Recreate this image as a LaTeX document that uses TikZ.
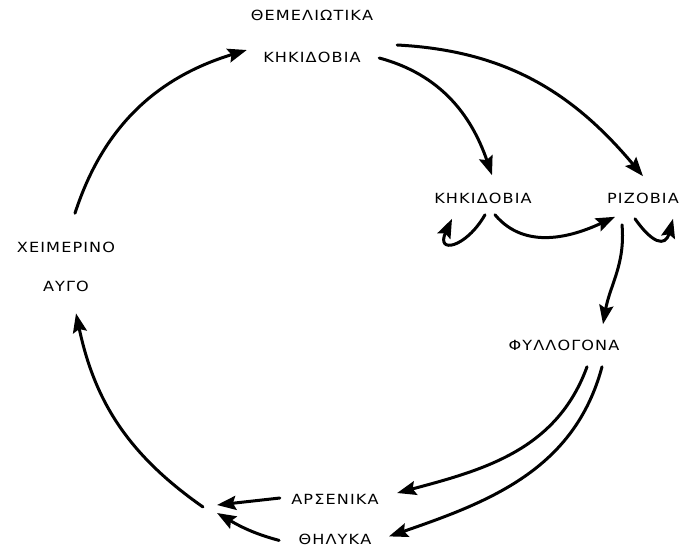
\documentclass[tikz,border=0pt]{standalone}
\usepackage{fontspec}
\newfontfamily\grfont[LetterSpace=8,FakeStretch=1.15]{DejaVu Sans}
\usetikzlibrary{arrows.meta}
\usetikzlibrary{positioning}
\begin{document}
\begin{tikzpicture}[x=1pt, y=1pt, >={Stealth[length=19pt,width=14pt,inset=3pt]},
	line width=3pt, line cap=round,
	stage node/.style={inner sep=0pt, font=\grfont\fontsize{14}{16}\selectfont},
]
\useasboundingbox (0,0) rectangle (684,-551);
\node [stage node] at (312,-57) (kk1) {ΚΗΚΙΔΟΒΙΑ};
\node [stage node] (them) [above=28pt of kk1] {ΘΕΜΕΛΙΩΤΙΚΑ};
\node [stage node] at (483,-198) (kk2) {ΚΗΚΙΔΟΒΙΑ};
\node [stage node] at (643,-198) (rz) {ΡΙΖΟΒΙΑ};
\node [stage node] at (66,-247) (xe) {ΧΕΙΜΕΡΙΝΟ};
\node [stage node] (ay) [below=26pt of xe] {ΑΥΓΟ};
\node [stage node] at (564,-345) (fy) {ΦΥΛΛΟΓΟΝΑ};
\node [stage node] at (335,-499) (ar) {ΑΡΣΕΝΙΚΑ};
\node [stage node] (th) [below=27pt of ar] {ΘΗΛΥΚΑ};
\coordinate (j0) at (203,-507);
\coordinate (j1) at (217,-505);
\coordinate (j2) at (217,-513);
%
\draw [->] ([shift={(9,27)}]xe.north) to [out=72, in=197] ([shift={(-15,7)}]kk1.west);
\draw [->] ([shift={(17,-1)}]kk1.east) to [out=-15, in=109] ([shift={(9,16)}]kk2.north);
\draw [->] ([shift={(35,12)}]kk1.east) to [out=-3, in=130] ([shift={(0,15)}]rz.north);
\draw [->] ([shift={(2,-10)}]kk2.south) to [out=240, in=245, looseness=3] ([shift={(-31,-14)}]kk2.south);
\draw [->] ([shift={(12,-10)}]kk2.south) to [out=-50, in=205] ([shift={(-28,-12)}]rz.south);
\draw [->] ([shift={(-8,-14)}]rz.south) to [out=-55, in=255, looseness=2] ([shift={(30,-14)}]rz.south);
\draw [->] ([shift={(-21,-20)}]rz.south) to [out=-85, in=80] ([shift={(39,14)}]fy.north);
\draw [->] ([shift={(23,-15)}]fy.south) to [out=-110, in=15] ([shift={(17,6)}]ar.east);
\draw [->] ([shift={(38,-15)}]fy.south) to [out=-105, in=19] ([shift={(16,3)}]th.east);
\draw [->] ([shift={(-10,1)}]ar.west) -- (j1);
\draw [->] ([shift={(-18,-1)}]th.west) to [out=165, in=-30] (j2);
\draw [->] (j0) to [out=145, in=-78] ([shift={(10,-20)}]ay.south);
\end{tikzpicture}
\end{document}
